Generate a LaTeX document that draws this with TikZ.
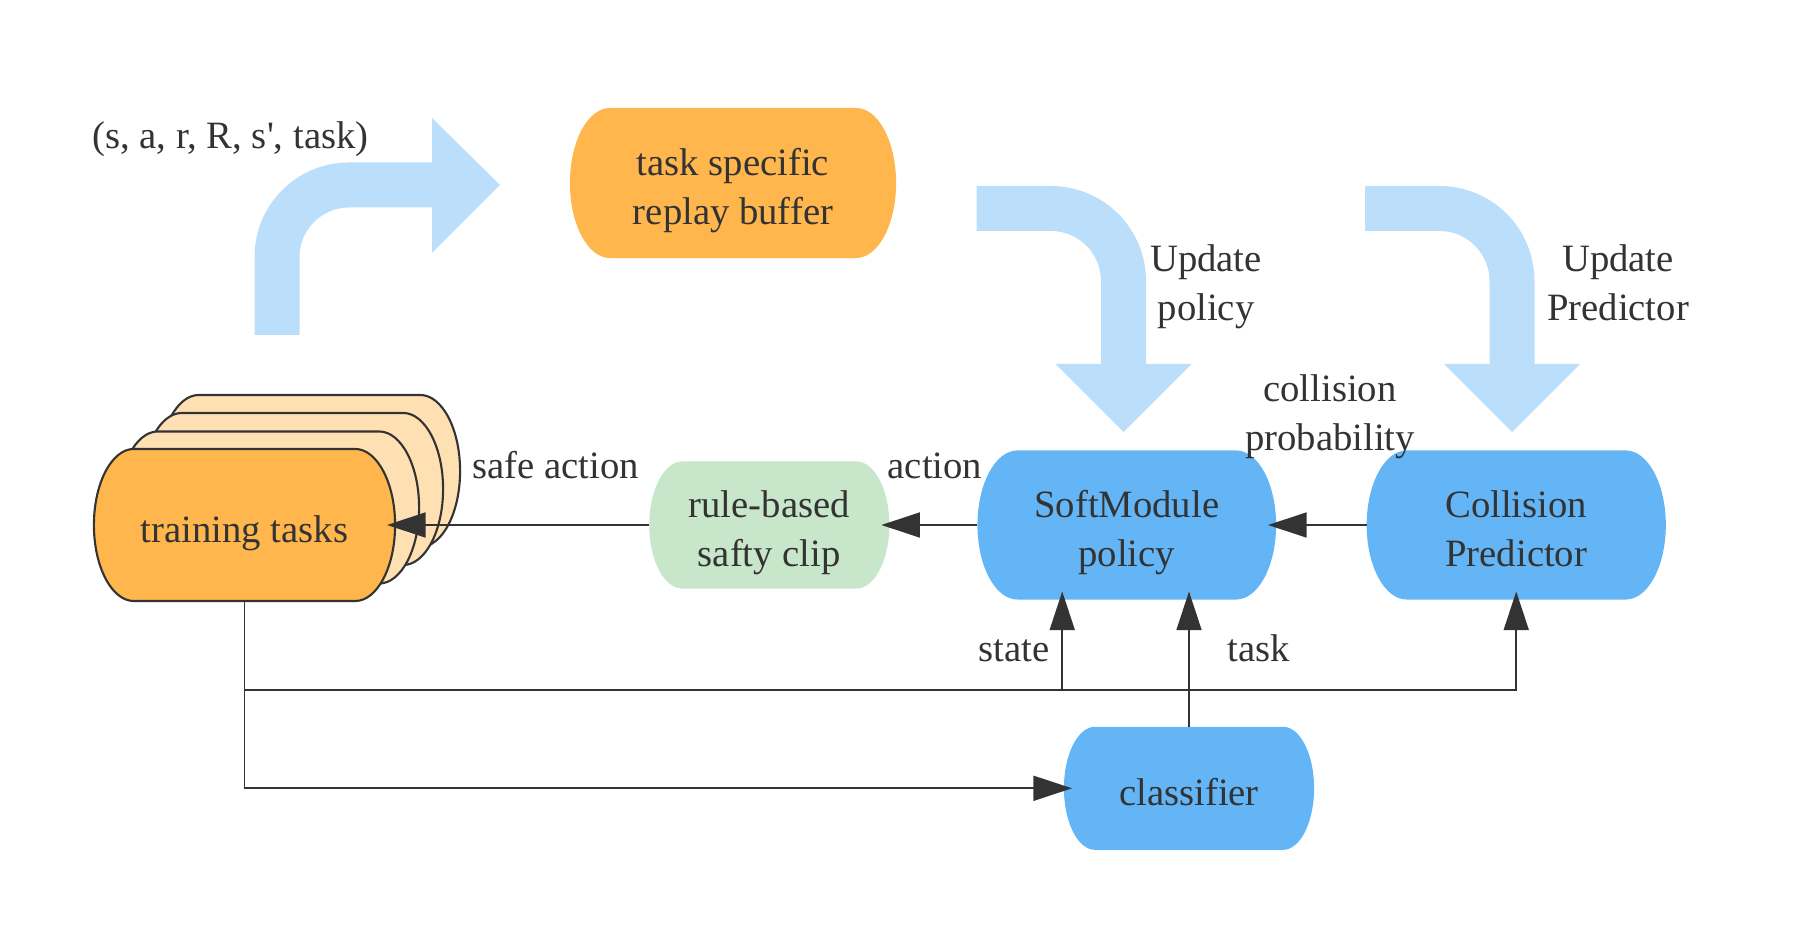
\documentclass[tikz,border=0pt]{standalone}
\usepackage{fontspec}
\setmainfont{Liberation Serif}
\usetikzlibrary{arrows.meta,positioning,backgrounds}
\definecolor{ink}{HTML}{333333}
\definecolor{taskorange}{HTML}{FFB74D}
\definecolor{tasklight}{HTML}{FFE0B2}
\definecolor{modblue}{HTML}{64B5F6}
\definecolor{clipgreen}{HTML}{C8E6C9}
\definecolor{flowblue}{HTML}{BBDEFB}
\newcommand{\linestrut}{\rule[-3.13pt]{0pt}{13.66pt}}
\newcommand{\topstrut}{\rule[-3.13pt]{0pt}{15.94pt}}
% capsule outline behind a node: name, style, half height, end radius
\newcommand{\capsule}[4]{%
  \path[#2] ([xshift=#4]#1.north west) -- ([xshift=-#4]#1.north east)
    arc[start angle=90, end angle=-90, x radius=#4, y radius=#3]
    -- ([xshift=#4]#1.south west)
    arc[start angle=270, end angle=90, x radius=#4, y radius=#3] -- cycle;}
\tikzset{
  txt/.style={font=\fontsize{11pt}{13.66pt}\selectfont, text=ink, align=center,
    execute at begin node=\linestrut, execute at end node=\linestrut},
  module/.style={txt, inner sep=0pt, outer sep=0pt, execute at begin node=\topstrut},
  taskbox/.style={module, minimum width=3.01cm, minimum height=1.52cm},
  lbl/.style={txt, inner sep=0pt},
  backfill/.style={fill=tasklight, draw=ink, line width=0.6pt},
  frontfill/.style={fill=taskorange, draw=ink, line width=0.6pt},
  link/.style={->, draw=ink, line width=0.55pt, shorten >=-2.3pt},
  >={Triangle[length=11pt,width=7.1pt]}}

\begin{document}
\begin{tikzpicture}[x=0.01cm,y=-0.01cm]
  \useasboundingbox (0,0) rectangle (1803,925);

  % broad flow arrows
  \fill[flowblue] (254.5,335) -- (254.5,257) .. controls (254.5,204.8) and (296.8,162.5) .. (349,162.5)
    -- (432,162.5) -- (432,118) -- (500,185) -- (432,253) -- (432,207.5) -- (349,207.5)
    .. controls (321.7,207.5) and (299.5,229.7) .. (299.5,257) -- (299.5,335) -- cycle;
  \foreach \dx in {0,388.5}
    \fill[flowblue, shift={(\dx,0)}] (976.5,186) -- (1051,186) .. controls (1103.5,186) and (1146,228.5) .. (1146,281)
      -- (1146,364) -- (1191.5,364) -- (1123.5,432) -- (1055.5,364) -- (1101,364) -- (1101,281)
      .. controls (1101,253.4) and (1078.6,231) .. (1051,231) -- (976.5,231) -- cycle;

  \node[taskbox] (train) at (244.5,525) {training tasks};
  \node[taskbox] (train1) at ([shift={(24,-17.5)}]train) {};
  \node[taskbox] (train2) at ([shift={(48,-36)}]train) {};
  \node[taskbox] (train3) at ([shift={(65,-54)}]train) {};
  \node[module, minimum width=2.4cm, minimum height=1.27cm] (rule) [right=2.54cm of train]
    {\topstrut rule-based\\\linestrut safty clip};
  \node[module, minimum width=2.985cm, minimum height=1.49cm] (soft) [right=0.88cm of rule]
    {\topstrut SoftModule\\\linestrut policy};
  \node[module, minimum width=2.99cm, minimum height=1.49cm] (coll) [right=0.905cm of soft]
    {\topstrut Collision\\\linestrut Predictor};
  \node[module, minimum width=3.26cm, minimum height=1.5cm] (replay) at (733,183)
    {\topstrut task specific\\\linestrut replay buffer};
  \node[module, minimum width=2.5cm, minimum height=1.23cm] (clf) at (1189,788.3) {classifier};

  \begin{scope}[on background layer]
    \foreach \n in {train3,train2,train1}
      \capsule{\n}{backfill}{0.76cm}{0.4cm};
    \capsule{train}{frontfill}{0.76cm}{0.4cm};
    \capsule{replay}{fill=taskorange}{0.75cm}{0.4cm};
    \capsule{rule}{fill=clipgreen}{0.635cm}{0.33cm};
    \capsule{soft}{fill=modblue}{0.745cm}{0.4cm};
    \capsule{coll}{fill=modblue}{0.745cm}{0.4cm};
    \capsule{clf}{fill=modblue}{0.615cm}{0.31cm};
  \end{scope}

  \coordinate (split) at ([yshift=-0.89cm]train.south);
  \coordinate (statefoot) at ([xshift=-0.645cm]soft.south);

  \draw[link] (rule) -- (train);
  \draw[link] (soft) -- (rule);
  \draw[link] (coll) -- (soft);
  \draw[link] (train) |- (clf);
  \draw[link] (split) -| (coll);
  \draw[link] (split) -| (statefoot);
  \draw[link] (clf) -- (clf |- soft.south);

  \node[lbl, anchor=west] (tuple) at (91.7,135) {(s, a, r, R, s\textquotesingle, task)};
  \node[lbl] (safelbl) at (555.5,465) {safe action};
  \node[lbl] (actlbl) at (935,465) {action};
  \node[lbl] (problbl) at (1330,409) {\topstrut collision\\\linestrut probability};
  \node[lbl] (polupd) at (1206,279) {\topstrut Update\\\linestrut policy};
  \node[lbl] (predupd) at (1618,279) {\topstrut Update\\\linestrut Predictor};
  \node[lbl, anchor=east] (statelbl) at (1050,648) {state};
  \node[lbl, anchor=west] (tasklbl) at (1227,648) {task};
\end{tikzpicture}
\end{document}
